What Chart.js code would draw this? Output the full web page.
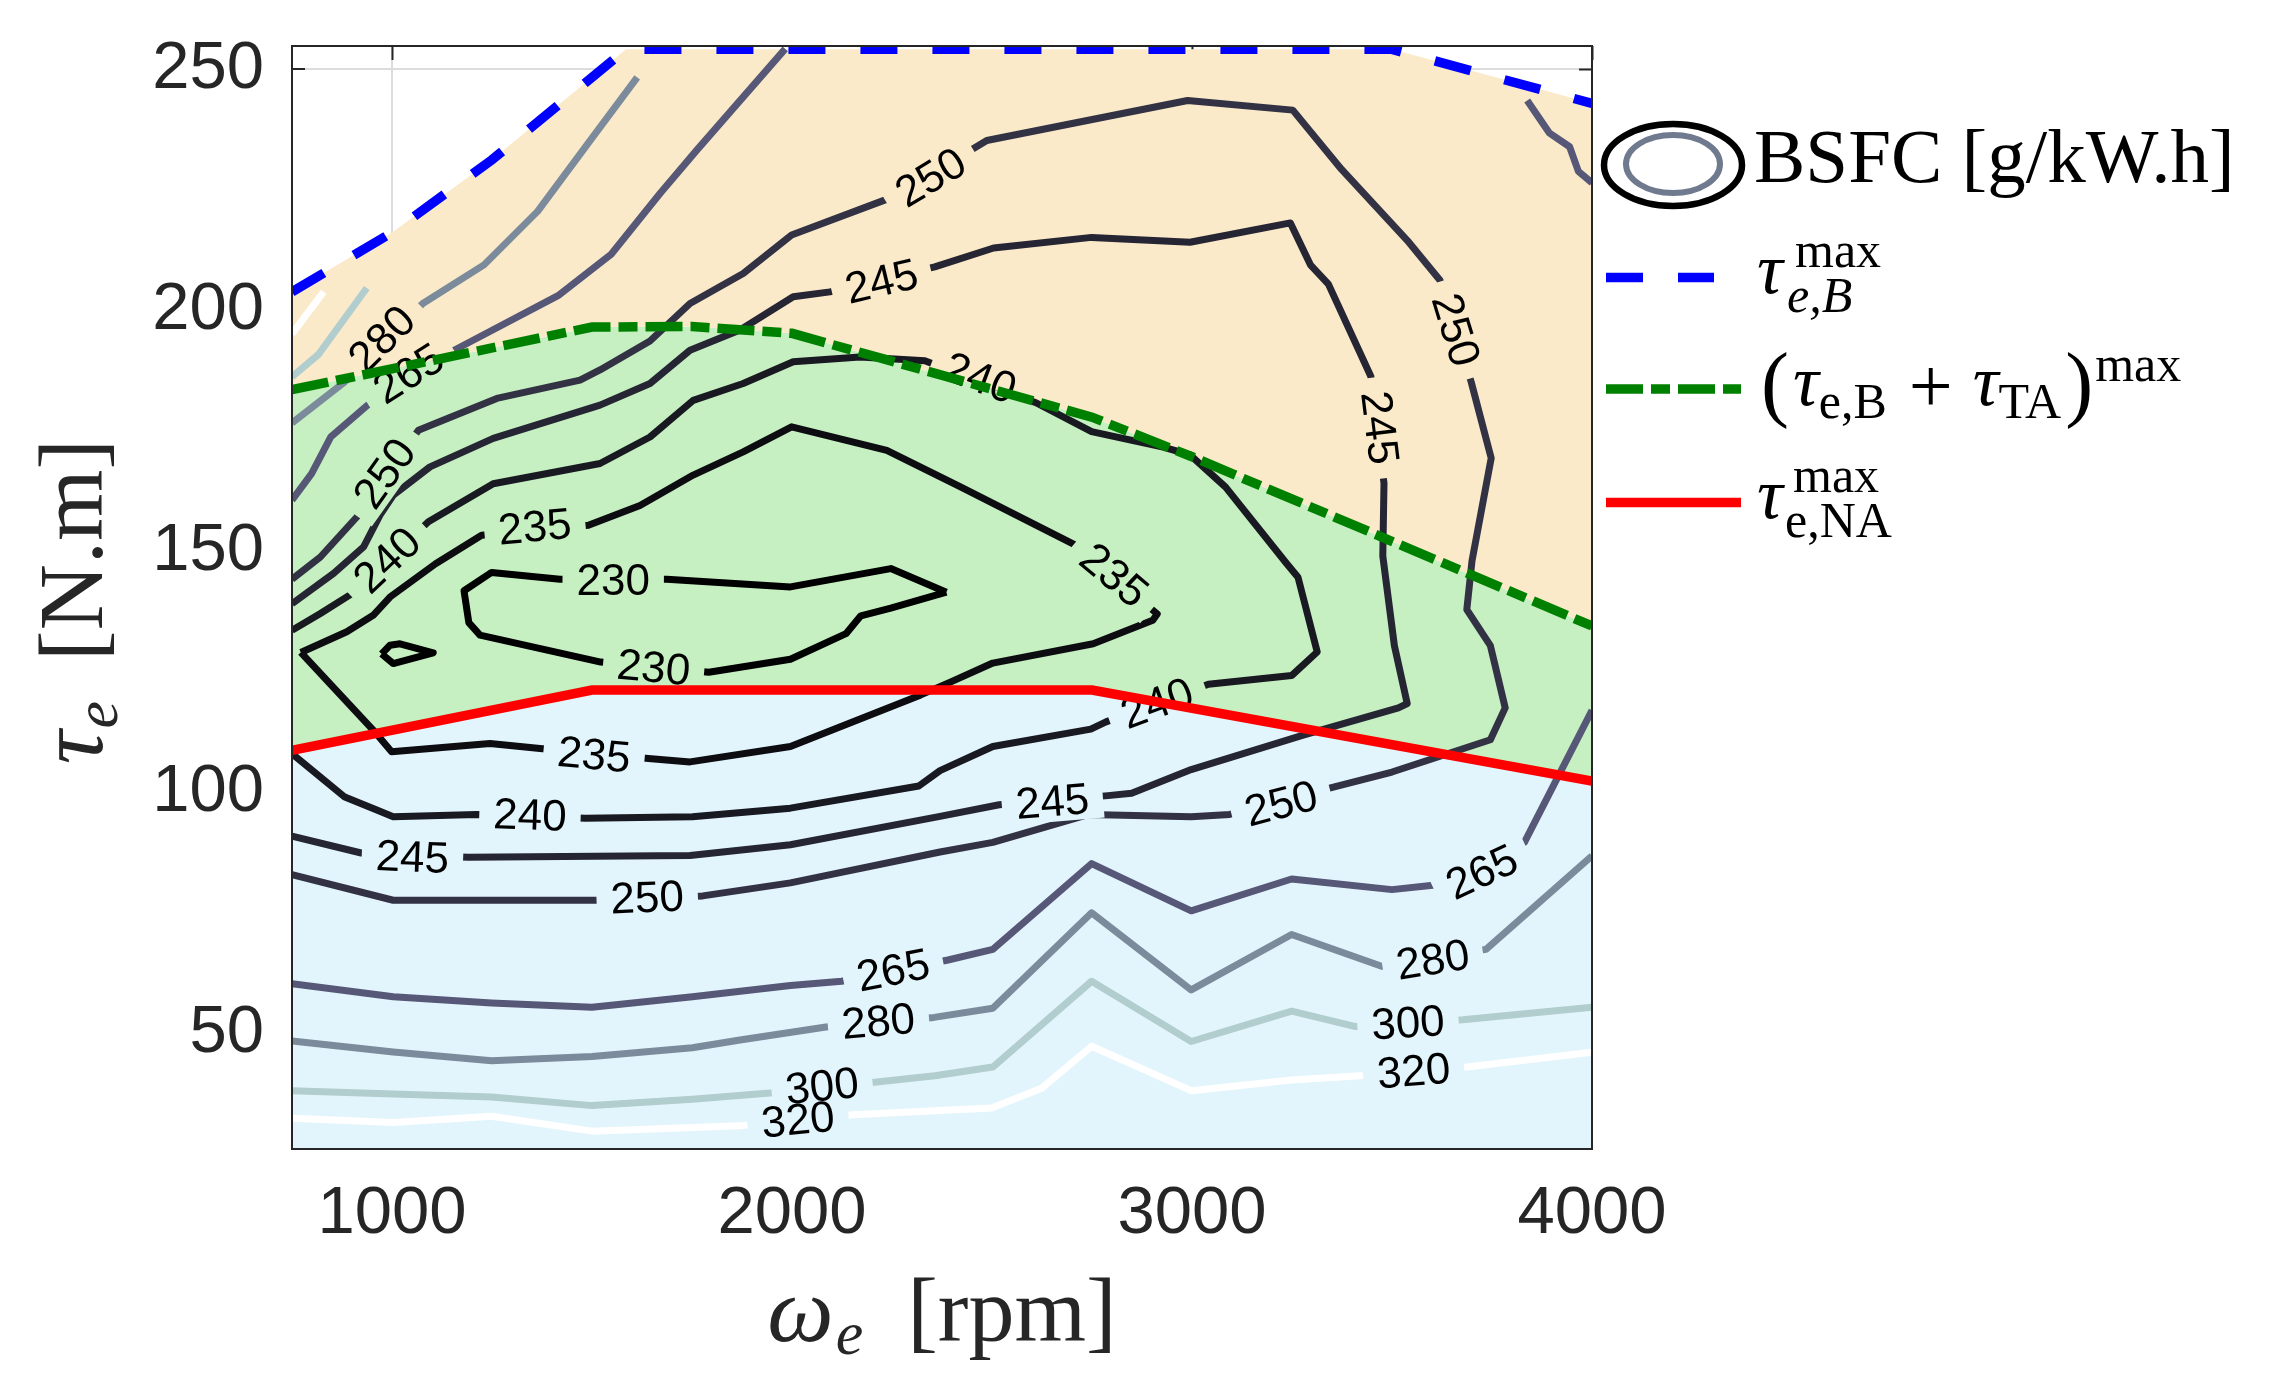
<!DOCTYPE html>
<html lang="en">
<head>
<meta charset="UTF-8" />
<title>BSFC map with torque limits</title>
<script src="https://cdn.jsdelivr.net/npm/chart.js"></script>
<style>
  html, body { margin: 0; padding: 0; background: #ffffff; }
  canvas { display: block; }
</style>
</head>
<body>
<canvas id="chart" width="2269" height="1385"></canvas>
<script>
// axis limits and ticks (rpm, N.m)
const xLimits = [750, 4000];
const yLimits = [26, 254.8];
const xTicks = [1000, 2000, 3000, 4000];
const yTicks = [50, 100, 150, 200, 250];

// torque limit curves, [rpm, N.m]
const tauMaxB = [[750,203.8],[1000,216.1],[1250,231.2],[1500,248.3],[1585,254.1],[3500,254.1],[4000,242.9]];
const tauMaxBTA = [[750,183.5],[1500,196.5],[1750,196.6],[2000,195.2],[2750,177.8],[3000,169.6],[4000,134.5]];
const tauMaxNA = [[750,108.7],[1500,121.2],[2750,121.2],[4000,102.3]];

// BSFC contour levels, g/kW.h
const levels = [230, 235, 240, 245, 250, 265, 280, 300, 320];

// contour lines, [rpm, N.m]
const c230a = [[2386,141.5],[2247,146.4],[1996,142.6],[1687,144.2],[1420,144.2],[1249,145.6],[1180,141.8],[1192,135.2],[1220,132.6],[1522,127.0],[1792,124.9],[1996,127.6],[2135,132.9],[2172,136.6],[2247,138.2],[2386,141.5]];
const c230b = [[974,128.7],[995,130.5],[1020,130.8],[1103,128.9],[1003,126.7],[974,128.7]];
const c235 = [[772,129.0],[887,133.3],[953,136.7],[995,140.5],[1109,147.4],[1224,153.3],[1491,155.4],[1620,159.5],[1753,165.8],[1878,170.6],[1999,175.8],[2237,170.9],[2420,163.4],[2705,151.4],[2913,137.0],[2902,135.7],[2753,130.8],[2502,126.8],[2400,123.0],[2322,120.2],[1996,109.5],[1745,106.3],[1641,107.0],[1370,109.1],[1245,110.1],[999,108.4],[953,112.9],[772,129.0]];
const c240 = [[750,133.6],[821,137.1],[900,141.2],[1091,156.1],[1253,164.0],[1520,168.2],[1645,173.7],[1753,181.3],[1878,184.8],[2003,189.3],[2170,190.3],[2332,189.5],[2610,180.8],[2749,174.8],[2928,171.6],[2995,170.0],[3084,163.3],[3236,147.5],[3265,144.6],[3313,129.1],[3249,124.2],[3041,122.4],[2785,114.6],[2747,113.1],[2502,109.5],[2370,104.5],[2317,101.3],[1996,96.7],[1751,94.9],[1484,94.6],[1211,95.4],[1003,94.9],[962,96.3],[882,99.0],[750,108.0]];
const c245 = [[750,139.1],[854,145.4],[929,150.9],[970,157.5],[1003,161.6],[1095,167.5],[1253,173.4],[1520,180.3],[1645,184.8],[1745,191.7],[1870,195.9],[2003,202.8],[2095,203.8],[2357,209.0],[2504,212.9],[2749,215.1],[2995,214.1],[3246,218.1],[3296,209.4],[3341,205.4],[3447,186.3],[3480,164.1],[3477,149.0],[3506,130.4],[3538,118.4],[3516,117.5],[3276,111.8],[2998,104.7],[2849,99.8],[2790,99.3],[2518,97.4],[2370,95.0],[1996,89.1],[1745,86.9],[1190,86.5],[923,87.4],[750,90.9]];
const c250 = [[750,144.2],[821,148.8],[912,157.1],[1066,175.1],[1262,181.7],[1470,185.5],[1520,187.6],[1645,193.6],[1745,201.4],[1878,207.6],[1999,215.6],[2253,223.5],[2487,235.2],[2989,243.5],[3252,241.5],[3374,229.2],[3542,214.1],[3620,206.2],[3698,185.1],[3748,169.3],[3700,148.0],[3687,137.9],[3746,130.4],[3783,117.5],[3746,110.9],[3500,104.2],[3356,101.1],[3094,95.4],[2998,94.9],[2742,95.4],[2502,89.6],[2370,87.6],[1996,81.2],[1777,78.5],[1510,77.6],[1003,77.6],[750,82.9]];
const c265a = [[750,160.6],[799,166.1],[847,173.7],[939,180.3],[1160,191.9],[1415,203.0],[1548,211.6],[1670,224.2],[1762,233.2],[1983,254.2]];
const c265b = [[750,60.3],[1003,57.6],[1249,56.3],[1500,55.4],[1751,57.6],[1996,59.9],[2124,60.8],[2390,65.2],[2502,67.4],[2749,85.2],[2998,75.4],[3249,82.0],[3500,79.8],[3602,80.7],[3831,89.6],[4000,117.0]];
const c265c = [[3838,243.5],[3893,236.8],[3944,233.9],[3966,228.8],[4000,226.4]];
const c280a = [[750,176.6],[880,185.0],[1077,201.4],[1230,209.4],[1364,220.5],[1492,234.8],[1613,248.3]];
const c280b = [[750,48.4],[1003,46.1],[1249,44.3],[1500,45.2],[1751,47.0],[1870,48.6],[2085,51.3],[2355,53.3],[2502,55.2],[2749,75.0],[2998,59.0],[3249,70.5],[3474,63.9],[3735,67.4],[4000,86.8]];
const c300a = [[750,186.2],[816,190.8],[937,204.6]];
const c300b = [[750,38.1],[1003,37.4],[1249,36.8],[1500,35.0],[1751,36.3],[1945,37.6],[2212,39.9],[2357,41.2],[2502,43.0],[2749,60.8],[2998,48.3],[3249,54.6],[3409,51.4],[3677,52.8],[4000,55.4]];
const c320a = [[750,195.1],[829,203.8]];
const c320b = [[750,32.4],[1003,31.5],[1249,32.8],[1500,29.7],[1870,30.8],[2153,33.1],[2499,34.5],[2624,38.6],[2749,47.3],[2998,38.1],[3249,40.3],[3420,41.2],[3687,43.0],[4000,46.1]];

// inline contour labels, [rpm, N.m]
const lab230 = [[1553,143.9],[1654,125.8]];
const lab235 = [[1357,155.0],[2805,145.0],[1505,107.7]];
const lab240 = [[988,148.1],[2470,185.9],[2913,118.4],[1345,95.2]];
const lab245 = [[2224,205.9],[3469,175.6],[2651,98.0],[1051,86.5]];
const lab250 = [[982,166.1],[2347,227.5],[3659,195.9],[3223,97.6],[1638,78.1]];
const lab265 = [[1042,186.8],[2253,63.0],[3725,83.4]];
const lab280 = [[975,194.0],[2216,52.4],[3602,65.2]];
const lab300 = [[2075,39.0],[3540,52.1]];
const lab320 = [[2015,32.0],[3554,42.1]];

const contourPaths = [
  [230, c230a], [230, c230b], [235, c235], [240, c240], [245, c245], [250, c250],
  [265, c265a], [265, c265b], [265, c265c], [280, c280a], [280, c280b],
  [300, c300a], [300, c300b], [320, c320a], [320, c320b]
];
const contourLabels = [
  [230, lab230], [235, lab235], [240, lab240], [245, lab245], [250, lab250],
  [265, lab265], [280, lab280], [300, lab300], [320, lab320]
];

const SANS = '"Liberation Sans", Arial, Helvetica, sans-serif';
const SERIF = '"Liberation Serif", "Times New Roman", serif';
const AXIS_GREY = '#262626';

// matlab "bone" colormap
function bone(t) {
  const r = Math.min(1, t / 0.375);
  const g = Math.min(1, Math.max(0, (t - 0.375) / 0.375));
  const b = Math.min(1, Math.max(0, (t - 0.75) / 0.25));
  const c = v => Math.round(255 * v / 8);
  return 'rgb(' + c(7 * t + b) + ',' + c(7 * t + g) + ',' + c(7 * t + r) + ')';
}
function levelColor(lvl) {
  const lo = levels[0], hi = levels[levels.length - 1];
  return bone((lvl - lo) / (hi - lo));
}

const toXY = arr => arr.map(p => ({x: p[0], y: p[1]}));

const datasets = [
  { data: toXY(tauMaxB), borderColor: '#0000ff', borderWidth: 9.5, borderDash: [37, 35],
    fill: '+1', backgroundColor: 'rgb(250,234,201)' },
  { data: toXY(tauMaxBTA), borderColor: '#008000', borderWidth: 9.5, borderDash: [37, 8, 19, 8],
    fill: '+1', backgroundColor: 'rgb(198,240,193)' },
  { data: toXY(tauMaxNA), borderColor: '#ff0000', borderWidth: 9.5,
    fill: 'start', backgroundColor: 'rgb(227,245,252)' }
];
const firstContour = datasets.length;
contourPaths.forEach(([lvl, path]) => {
  datasets.push({ data: toXY(path), borderColor: levelColor(lvl), borderWidth: 7,
    fill: false, borderJoinStyle: 'round', borderCapStyle: 'butt' });
});
datasets.forEach(d => { d.pointRadius = 0; d.tension = 0; });

let backdrop = null;

function segDist(px, py, ax, ay, bx, by) {
  const dx = bx - ax, dy = by - ay;
  const len2 = dx * dx + dy * dy || 1;
  let t = ((px - ax) * dx + (py - ay) * dy) / len2;
  t = Math.max(0, Math.min(1, t));
  const qx = ax + t * dx - px, qy = ay + t * dy - py;
  return Math.sqrt(qx * qx + qy * qy);
}

function labelAngle(lvl, px, py, xs, ys) {
  let best = 0, bestD = Infinity;
  contourPaths.filter(c => c[0] === lvl).forEach(([, path]) => {
    for (let i = 0; i < path.length - 1; i++) {
      const ax = xs.getPixelForValue(path[i][0]), ay = ys.getPixelForValue(path[i][1]);
      const bx = xs.getPixelForValue(path[i + 1][0]), by = ys.getPixelForValue(path[i + 1][1]);
      const d = segDist(px, py, ax, ay, bx, by);
      if (d < bestD) { bestD = d; best = Math.atan2(by - ay, bx - ax); }
    }
  });
  if (best > Math.PI / 2) best -= Math.PI;
  if (best <= -Math.PI / 2) best += Math.PI;
  return best;
}

function drawContourLabels(chart) {
  const ctx = chart.ctx, xs = chart.scales.x, ys = chart.scales.y, area = chart.chartArea;
  ctx.save();
  ctx.font = '44px ' + SANS;
  const items = [];
  contourLabels.forEach(([lvl, list]) => {
    list.forEach(([x, y]) => {
      const px = xs.getPixelForValue(x), py = ys.getPixelForValue(y);
      items.push({ text: String(lvl), px, py, ang: labelAngle(lvl, px, py, xs, ys),
        w: ctx.measureText(String(lvl)).width });
    });
  });
  // cut the gaps: put the fills back under every label
  if (backdrop) {
    ctx.save();
    ctx.beginPath();
    items.forEach(it => {
      const c = Math.cos(it.ang), s = Math.sin(it.ang);
      const hw = it.w / 2 + 14, hh = 20;
      const pts = [[-hw, -hh], [hw, -hh], [hw, hh], [-hw, hh]]
        .map(([a, b]) => [it.px + a * c - b * s, it.py + a * s + b * c]);
      ctx.moveTo(pts[0][0], pts[0][1]);
      for (let i = 1; i < 4; i++) ctx.lineTo(pts[i][0], pts[i][1]);
      ctx.closePath();
    });
    ctx.clip();
    ctx.setTransform(1, 0, 0, 1, 0, 0);
    ctx.drawImage(backdrop, 0, 0);
    ctx.restore();
  }
  ctx.beginPath();
  ctx.rect(area.left, area.top, area.right - area.left, area.bottom - area.top);
  ctx.clip();
  ctx.fillStyle = '#000000';
  ctx.textAlign = 'center';
  ctx.textBaseline = 'middle';
  items.forEach(it => {
    ctx.save();
    ctx.translate(it.px, it.py);
    ctx.rotate(it.ang);
    ctx.fillText(it.text, 0, 2);
    ctx.restore();
  });
  ctx.restore();
}

// a row of text pieces: [text, font, dy, gapAfter]
function measureRuns(ctx, runs) {
  let w = 0;
  runs.forEach(r => { ctx.font = r[1]; w += ctx.measureText(r[0]).width + (r[3] || 0); });
  return w;
}
function drawRuns(ctx, runs, x, y) {
  runs.forEach(r => {
    ctx.font = r[1];
    ctx.fillText(r[0], x, y + (r[2] || 0));
    x += ctx.measureText(r[0]).width + (r[3] || 0);
  });
  return x;
}

function drawAxisTitles(chart) {
  const ctx = chart.ctx, a = chart.chartArea;
  ctx.save();
  ctx.fillStyle = AXIS_GREY;
  ctx.textAlign = 'left';
  ctx.textBaseline = 'alphabetic';
  const xRuns = [['ω', 'italic 94px ' + SERIF, 0, 2], ['e', 'italic 62px ' + SERIF, 13, 44], ['[rpm]', '92px ' + SERIF, 0, 0]];
  const wx = measureRuns(ctx, xRuns);
  drawRuns(ctx, xRuns, (a.left + a.right) / 2 - wx / 2, 1341);

  const yRuns = [['τ', 'italic 94px ' + SERIF, 0, 2], ['e', 'italic 62px ' + SERIF, 15, 40], ['[N.m]', '92px ' + SERIF, 0, 0]];
  const wy = measureRuns(ctx, yRuns);
  ctx.translate(102, (a.top + a.bottom) / 2 + 4);
  ctx.rotate(-Math.PI / 2);
  drawRuns(ctx, yRuns, -wy / 2, 0);
  ctx.restore();
}

function drawLegend(chart) {
  const ctx = chart.ctx;
  const tauF = 'italic 72px ' + SERIF, supF = '50px ' + SERIF, subF = '50px ' + SERIF, subI = 'italic 50px ' + SERIF;
  const parF = '84px ' + SERIF;
  ctx.save();
  ctx.textAlign = 'left';
  ctx.textBaseline = 'alphabetic';
  ctx.fillStyle = '#000000';

  // contour entry
  ctx.lineWidth = 6.5;
  ctx.strokeStyle = '#000000';
  ctx.beginPath(); ctx.ellipse(1673, 165, 69, 41, 0, 0, Math.PI * 2); ctx.stroke();
  ctx.lineWidth = 6;
  ctx.strokeStyle = levelColor(275);
  ctx.beginPath(); ctx.ellipse(1673, 164, 47, 29, 0, 0, Math.PI * 2); ctx.stroke();
  ctx.font = '77px ' + SERIF;
  ctx.fillText('BSFC [g/kW.h]', 1754, 182);

  // line samples
  const sample = (y, color, dash, x2) => {
    ctx.save();
    ctx.strokeStyle = color; ctx.lineWidth = 9.5; ctx.setLineDash(dash); ctx.lineCap = 'butt';
    ctx.beginPath(); ctx.moveTo(1606, y); ctx.lineTo(x2, y); ctx.stroke();
    ctx.restore();
  };
  sample(277.5, '#0000ff', [37, 35], 1714);
  sample(389, '#008000', [37, 8, 19, 8], 1741);
  sample(502.6, '#ff0000', [], 1741);

  // tau_{e,B}^max
  ctx.font = tauF; ctx.fillText('τ', 1757, 293);
  ctx.font = supF; ctx.fillText('max', 1795, 267);
  ctx.font = subI; ctx.fillText('e,B', 1787, 312);

  // (tau_{e,B} + tau_{TA})^max
  let x = drawRuns(ctx, [['(', parF, 6, 4], ['τ', tauF, 0, 0], ['e,B', subF, 13, 22]], 1761, 405);
  ctx.font = '78px ' + SERIF; ctx.fillText('+', x, 412);
  x += ctx.measureText('+').width + 20;
  x = drawRuns(ctx, [['τ', tauF, 0, 0], ['TA', subF, 13, 4], [')', parF, 6, 2]], x, 405);
  ctx.font = supF; ctx.fillText('max', x, 381);

  // tau_{e,NA}^max
  ctx.font = tauF; ctx.fillText('τ', 1757, 518);
  ctx.font = supF; ctx.fillText('max', 1793, 492);
  ctx.font = subF; ctx.fillText('e,NA', 1785, 537);
  ctx.restore();
}

const mapPlugin = {
  id: 'bsfcMap',
  beforeDatasetDraw(chart, args) {
    // fills and grid are done at this point: keep a copy for the label gaps
    if (args.index === chart.data.datasets.length - 1) {
      backdrop = document.createElement('canvas');
      backdrop.width = chart.canvas.width;
      backdrop.height = chart.canvas.height;
      backdrop.getContext('2d').drawImage(chart.canvas, 0, 0);
    }
  },
  afterDatasetDraw(chart, args) {
    if (args.index === firstContour) drawContourLabels(chart);
  },
  afterDraw(chart) {
    const ctx = chart.ctx, a = chart.chartArea;
    ctx.save();
    ctx.strokeStyle = AXIS_GREY;
    ctx.lineWidth = 2;
    ctx.strokeRect(a.left, a.top, a.right - a.left, a.bottom - a.top);
    ctx.restore();
    drawAxisTitles(chart);
    drawLegend(chart);
  }
};

// keep the plot box exactly where the reference has it
function fixBox(size, key) {
  return s => {
    s[key] = size;
    s.paddingTop = 0; s.paddingBottom = 0; s.paddingLeft = 0; s.paddingRight = 0;
  };
}

const gridOpts = { color: '#dcdcdc', lineWidth: 2, drawTicks: true, tickColor: AXIS_GREY, tickWidth: 2 };
const tickFont = { family: SANS, size: 67 };

new Chart(document.getElementById('chart'), {
  type: 'line',
  data: { datasets },
  options: {
    responsive: false,
    animation: false,
    events: [],
    layout: { padding: { left: 0, top: 46, right: 677, bottom: 0 } },
    plugins: {
      legend: { display: false },
      tooltip: { enabled: false },
      filler: { drawTime: 'beforeDatasetsDraw', propagate: false }
    },
    scales: {
      x: {
        type: 'linear', position: 'bottom', min: xLimits[0], max: xLimits[1],
        afterBuildTicks: s => { s.ticks = xTicks.map(v => ({ value: v })); },
        afterFit: fixBox(236, 'height'),
        grid: Object.assign({}, gridOpts, { tickLength: -14 }),
        border: { display: false },
        ticks: { font: tickFont, color: AXIS_GREY, padding: 39, maxRotation: 0, autoSkip: false, callback: v => String(v) }
      },
      y: {
        type: 'linear', position: 'left', min: yLimits[0], max: yLimits[1],
        afterBuildTicks: s => { s.ticks = yTicks.map(v => ({ value: v })); },
        afterFit: fixBox(292, 'width'),
        grid: Object.assign({}, gridOpts, { tickLength: -13 }),
        border: { display: false },
        ticks: { font: tickFont, color: AXIS_GREY, padding: 41, autoSkip: false, callback: v => String(v) }
      },
      x2: {
        type: 'linear', position: 'top', min: xLimits[0], max: xLimits[1],
        afterBuildTicks: s => { s.ticks = xTicks.map(v => ({ value: v })); },
        afterFit: fixBox(0, 'height'),
        grid: { drawOnChartArea: false, drawTicks: true, tickLength: -14, tickColor: AXIS_GREY, tickWidth: 2 },
        border: { display: false },
        ticks: { display: false }
      },
      y2: {
        type: 'linear', position: 'right', min: yLimits[0], max: yLimits[1],
        afterBuildTicks: s => { s.ticks = yTicks.map(v => ({ value: v })); },
        afterFit: fixBox(0, 'width'),
        grid: { drawOnChartArea: false, drawTicks: true, tickLength: -13, tickColor: AXIS_GREY, tickWidth: 2 },
        border: { display: false },
        ticks: { display: false }
      }
    }
  },
  plugins: [mapPlugin]
});
</script>
</body>
</html>
